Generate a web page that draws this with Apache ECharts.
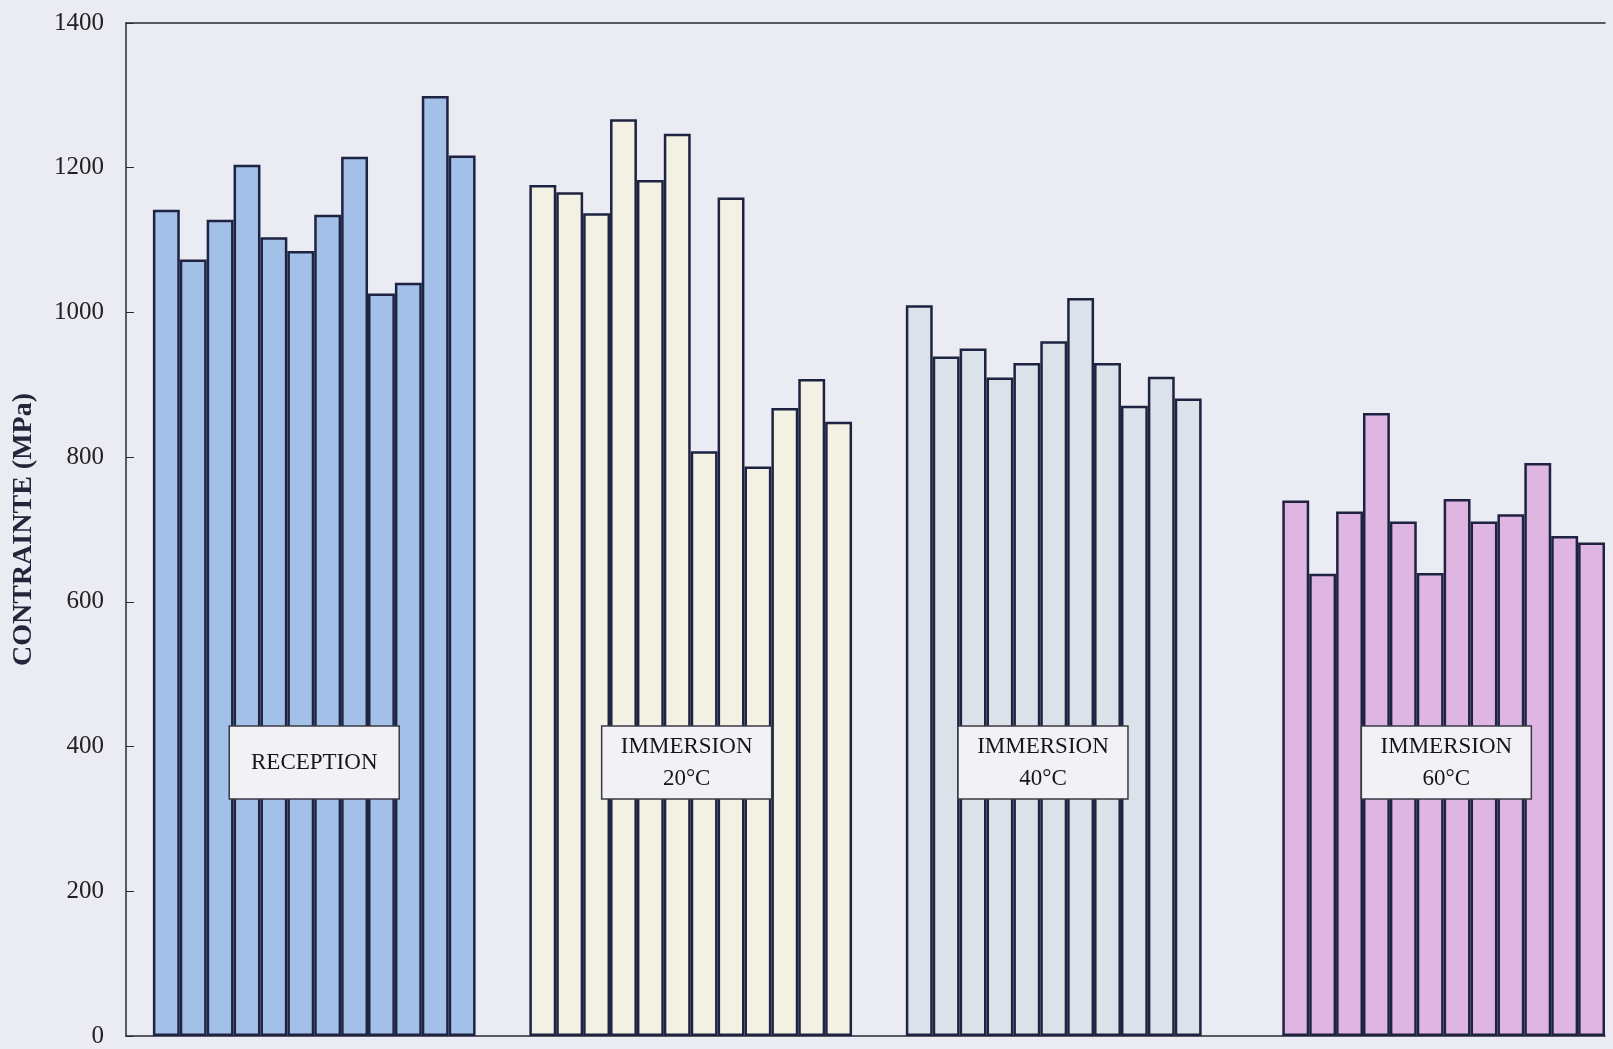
<!DOCTYPE html>
<html>
<head>
<meta charset="utf-8">
<title>Contrainte</title>
<script src="https://cdn.jsdelivr.net/npm/echarts@6/dist/echarts.min.js"></script>
<style>
  html, body { margin: 0; padding: 0; background: #eaebf3; }
  #chart { width: 1613px; height: 1049px; }
</style>
</head>
<body>
<div id="chart"></div>
<script>
// valeurs (MPa)
const reception   = [1142, 1073, 1128, 1204, 1104, 1085, 1135, 1215, 1026, 1041, 1299, 1217]
const immersion20 = [1176, 1166, 1137, 1267, 1183, 1247, 808, 1159, 787, 868, 908, 849]
const immersion40 = [1010, 939, 950, 910, 930, 960, 1020, 930, 871, 911, 881]
const immersion60 = [740, 639, 725, 861, 711, 640, 742, 711, 721, 792, 691, 682]

const groupLabels = ['RECEPTION', 'IMMERSION\n20°C', 'IMMERSION\n40°C', 'IMMERSION\n60°C']
const yTicks = [0, 200, 400, 600, 800, 1000, 1200, 1400]

const groups = [reception, immersion20, immersion40, immersion60]
const fills = ['#a3c0e9', '#f3f1e3', '#dce2ea', '#dfb5e2']
const slotsPerGroup = 12
const gapSlots = 2
const leadSlots = 1

// build the category slots: blank lead, then each group padded to 12 + a gap
let categories = []
let barData = []
let groupStart = []
function blank() {
  categories.push('s' + categories.length)
  barData.push('-')
}
for (let i = 0; i < leadSlots; i++) blank()
groups.forEach((g, gi) => {
  groupStart.push(categories.length)
  for (let k = 0; k < slotsPerGroup; k++) {
    if (k < g.length) {
      categories.push('s' + categories.length)
      barData.push({ value: g[k], itemStyle: { color: fills[gi] } })
    } else {
      blank()
    }
  }
  if (gi < groups.length - 1) {
    for (let i = 0; i < gapSlots; i++) blank()
  }
})

const gridLeft = 126, gridRight = 8, gridTop = 23, gridBottom = 13

const chart = echarts.init(document.getElementById('chart'))

chart.setOption({
  backgroundColor: '#eaebf3',
  animation: false,
  grid: { left: gridLeft, right: gridRight, top: gridTop, bottom: gridBottom },
  xAxis: [{
    type: 'category',
    data: categories,
    axisLine: { show: true, lineStyle: { color: '#2a2a33', width: 1.5 } },
    axisTick: { show: false },
    axisLabel: { show: false }
  }, {
    type: 'category',
    position: 'top',
    data: categories,
    axisLine: { show: true, lineStyle: { color: '#2a2a33', width: 1.5 } },
    axisTick: { show: false },
    axisLabel: { show: false }
  }],
  yAxis: {
    type: 'value',
    min: yTicks[0],
    max: yTicks[yTicks.length - 1],
    interval: yTicks[1] - yTicks[0],
    name: 'CONTRAINTE (MPa)',
    nameLocation: 'middle',
    nameRotate: 90,
    nameGap: 88,
    nameTextStyle: {
      fontFamily: 'Liberation Serif',
      fontWeight: 'bold',
      fontSize: 28,
      color: '#23263a'
    },
    axisLine: { show: true, lineStyle: { color: '#2a2a33', width: 1.5 } },
    axisTick: { show: true, inside: true, length: 8, lineStyle: { color: '#2a2a33' } },
    axisLabel: {
      fontFamily: 'Liberation Serif',
      fontSize: 25,
      color: '#222',
      margin: 22,
      formatter: v => String(v)
    },
    splitLine: { show: false }
  },
  series: [{
    type: 'bar',
    data: barData,
    barCategoryGap: '0%',
    itemStyle: {
      borderColor: '#1d2340',
      borderWidth: 2.5
    }
  }]
})

// label boxes, centred in slots counted from each group's start
const labelSlot = [6.0, 5.85, 5.1, 6.1]
const labelValue = 378
const nSlots = categories.length
let slotW = (1613 - gridLeft - gridRight) / nSlots
let xStart = gridLeft
let cy = 1049 - gridBottom - (labelValue / 1400) * (1049 - gridTop - gridBottom)
const p0 = chart.convertToPixel({ seriesIndex: 0 }, [0, labelValue])
const p1 = chart.convertToPixel({ seriesIndex: 0 }, [1, labelValue])
if (p0 && p1 && isFinite(p0[0]) && isFinite(p1[0]) && isFinite(p0[1])) {
  slotW = p1[0] - p0[0]
  xStart = p0[0] - slotW / 2
  cy = p0[1]
}
const boxW = 170, boxH = 73

const graphics = []
groupLabels.forEach((txt, i) => {
  const cx = xStart + (groupStart[i] + labelSlot[i]) * slotW
  graphics.push({
    type: 'rect',
    z: 100,
    shape: { x: cx - boxW / 2, y: cy - boxH / 2, width: boxW, height: boxH },
    style: { fill: '#f1f1f6', stroke: '#3a3a44', lineWidth: 1.5 }
  })
  graphics.push({
    type: 'text',
    z: 101,
    x: cx,
    y: cy,
    style: {
      text: txt,
      fontFamily: 'Liberation Serif',
      fontSize: 23,
      fill: '#15151c',
      align: 'center',
      verticalAlign: 'middle',
      lineHeight: 32
    }
  })
})

chart.setOption({ graphic: graphics })
</script>
</body>
</html>
